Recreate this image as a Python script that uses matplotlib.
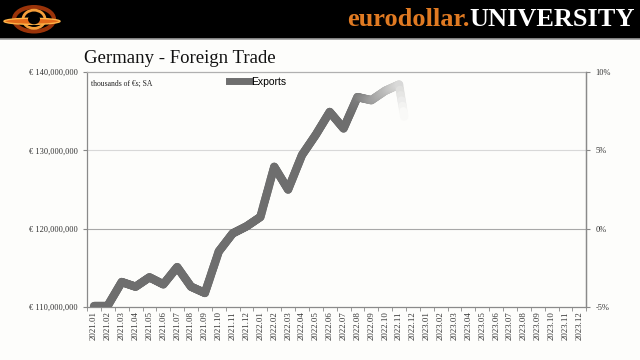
import matplotlib
matplotlib.use("Agg")
import matplotlib.pyplot as plt
from matplotlib.collections import LineCollection
from matplotlib.lines import Line2D
from matplotlib.patches import Ellipse, Rectangle
import matplotlib.ticker as mticker
import numpy as np

# monthly categories 2021.01 .. 2023.12
months = [f"{y}.{m:02d}" for y in (2021, 2022, 2023) for m in range(1, 13)]
# exports, thousands of EUR (in millions of the axis unit)
exports = [110.2, 110.2, 113.2, 112.6, 113.8, 112.9, 115.1, 112.6, 111.8, 117.1,
           119.4, 120.3, 121.5, 127.9, 125.0, 129.4, 132.0, 134.9, 132.8, 136.8,
           136.4, 137.6, 138.4, 127.5]
right_ticks = [-5, 0, 5, 10]

bg = np.array([0.992, 0.992, 0.984])
line_col = np.array([0.43, 0.43, 0.43])
serif = "Liberation Serif"

fig = plt.figure(figsize=(6.4, 3.6), dpi=100, facecolor=bg)

# header bar
fig.patches.append(Rectangle((0, 0.893), 1, 0.107, transform=fig.transFigure,
                             facecolor="black", edgecolor="none", zorder=-1))
fig.add_artist(Line2D([0, 1], [0.891, 0.891], transform=fig.transFigure,
                      color="#9a9a9a", lw=1.2))
fig.text(0.733, 0.945, "eurodollar.", color="#e07a22", fontsize=19, fontweight="bold",
         family=serif, ha="right", va="center")
fig.text(0.733, 0.945, "UNIVERSITY", color="white", fontsize=19, fontweight="bold",
         family=serif, ha="left", va="center")
# logo
lax = fig.add_axes([0.0, 0.893, 0.1, 0.107])
lax.set_xlim(0, 64)
lax.set_ylim(0, 38)
lax.axis("off")
lax.add_patch(Ellipse((34, 19), 40, 24, fill=False, edgecolor="#c2410c", lw=3, alpha=0.8))
lax.add_patch(Ellipse((34, 19), 22, 18, fill=False, edgecolor="#f59e3a", lw=2))
lax.add_patch(Ellipse((32, 17), 56, 6, facecolor="#e46a1a", edgecolor="#ffb347", lw=1))
lax.add_patch(Ellipse((34, 19), 12, 10, facecolor="black", edgecolor="none"))

ax = fig.add_axes([0.136, 0.147, 0.78, 0.653])
ax.set_facecolor(bg)
x = np.arange(len(months))
xe = x[:len(exports)]

# thick line fading to the background at the end (animation-style)
pts = []
fade = []
for i in range(len(exports) - 1):
    for t in np.linspace(0, 1, 16, endpoint=False):
        pos = i + t
        pts.append((xe[i] + t, exports[i] + t * (exports[i + 1] - exports[i])))
        if pos < 18.5:
            f = 0.0
        elif pos < 22.0:
            f = 0.75 * (pos - 18.5) / 3.5
        else:
            f = min(1.0, 0.75 + 0.25 * (pos - 22.0) / 0.35)
        fade.append(f)
pts = np.array(pts)
segs = np.stack([pts[:-1], pts[1:]], axis=1)
fade = np.array(fade[:-1])
cols = np.ones((len(segs), 4))
cols[:, :3] = line_col[None, :] * (1 - fade[:, None]) + bg[None, :] * fade[:, None]
keep = fade < 0.999
lc = LineCollection(segs[keep], colors=cols[keep], linewidths=6, capstyle="round",
                    joinstyle="round", zorder=3)
ax.add_collection(lc)

ax.set_xlim(-0.5, len(months) - 0.5)
ax.set_ylim(110, 140)
ax.set_yticks([110, 120, 130, 140])
ax.yaxis.set_major_formatter(mticker.FuncFormatter(lambda v, p: f"€ {int(v * 1e6):,}"))
ax.axhline(130, color="#d8d8d8", lw=0.8, zorder=1)
ax.axhline(120, color="#a8a8a8", lw=0.8, zorder=1)

ax.set_xticks(x)
ax.set_xticklabels(months, rotation=90, family=serif, fontsize=6.3, color="#333333")
ax.set_xticks(np.arange(-0.5, len(months), 1), minor=True)
ax.tick_params(axis="x", which="major", length=0, pad=3)
ax.tick_params(axis="x", which="minor", length=3, color="#888888")
ax.tick_params(axis="y", length=3, color="#888888", labelsize=6, labelcolor="#333333")
for lab in ax.get_yticklabels():
    lab.set_family(serif)
for side in ("left", "right", "top", "bottom"):
    ax.spines[side].set_color("#8a8a8a")
    ax.spines[side].set_linewidth(0.9)
ax.spines["top"].set_color("#b0b0b0")

ax2 = ax.twinx()
ax2.set_ylim(-5, 10)
ax2.set_yticks(right_ticks)
ax2.yaxis.set_major_formatter(mticker.FuncFormatter(lambda v, p: f"{int(v)}%"))
ax2.tick_params(axis="y", length=3, color="#888888", labelsize=6, labelcolor="#333333")
for lab in ax2.get_yticklabels():
    lab.set_family(serif)
for side in ("left", "right", "top", "bottom"):
    ax2.spines[side].set_visible(False)
ax2.spines["right"].set_visible(True)
ax2.spines["right"].set_color("#8a8a8a")
ax2.spines["right"].set_linewidth(0.9)

fig.text(0.131, 0.815, "Germany - Foreign Trade", family=serif, fontsize=13.5,
         ha="left", va="bottom", color="#111111")
ax.text(0.008, 0.965, "thousands of €s; SA", transform=ax.transAxes, family=serif,
        fontsize=5.5, va="top", color="#222222")
proxy = Line2D([], [], color=line_col, lw=5)
ax.legend([proxy], ["Exports"], loc="upper left", bbox_to_anchor=(0.265, 1.02),
          frameon=False, handlelength=2.0, handletextpad=0.2,
          prop={"family": "Liberation Sans", "size": 7.5})

fig.savefig("out.png", dpi=100, facecolor=bg)
